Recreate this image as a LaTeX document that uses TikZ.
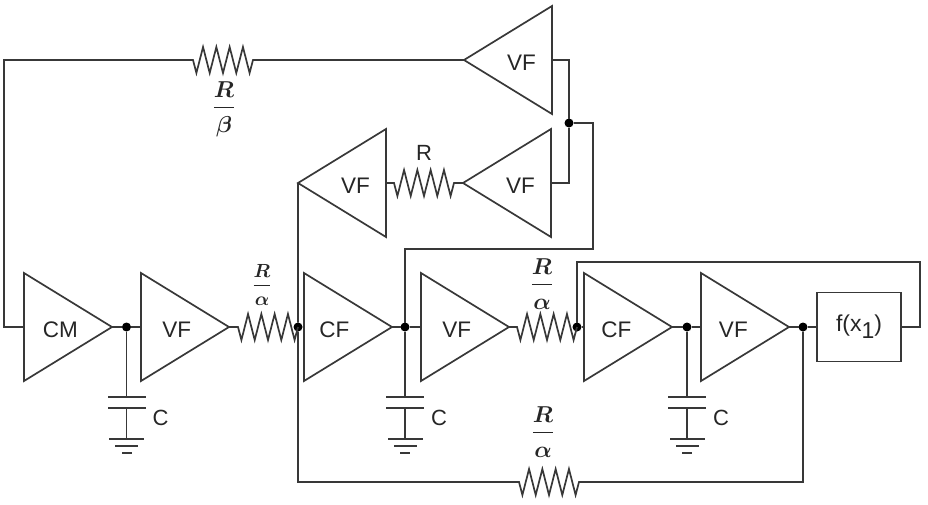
\documentclass[tikz,border=0pt]{standalone}
\usepackage{fix-cm}
\usepackage{amsmath, amssymb}
\usepackage{bm}
\usepackage{fontspec}
\setmainfont{Liberation Sans}
\usepackage{tikz}
\usetikzlibrary{shapes.geometric,positioning,calc}
\colorlet{wire}{black!78}
\tikzset{
  amp/.style={isosceles triangle,isosceles triangle stretches,draw=wire,line width=1.7pt,inner sep=0pt,outer sep=0pt,
    minimum width=108pt,minimum height=88pt,text=black!85,font=\fontsize{22.5}{24}\selectfont},
  ampl/.style={amp,shape border rotate=180},
  dot/.style={circle,fill=black,inner sep=0pt,outer sep=0pt,minimum size=9pt},
  resbox/.style={draw=none,inner sep=0pt,outer sep=0pt,minimum width=60pt,minimum height=26pt},
  plate/.style={fill=wire,draw=none,inner sep=0pt,outer sep=0pt,minimum height=2pt},
  textbox/.style={draw=none,inner sep=0pt,text=black!85,font=\fontsize{22}{24}\selectfont},
  ratio/.style={draw=none,inner sep=0pt,text=black!85,font=\fontsize{#1}{24}\selectfont},
  wireline/.style={draw=wire,line width=1.7pt},
  resistor/.style={to path={-- ($(\tikztostart)!.5!(\tikztotarget)+(-26.6,13)$) -- ++(6.65,-26) -- ++(6.65,26) -- ++(6.65,-26)
    -- ++(6.65,26) -- ++(6.65,-26) -- ++(6.65,26) -- ++(6.65,-26) -- ++(6.65,26) -- (\tikztotarget)}}
}
\newcommand{\ratiotext}[2]{$\dfrac{\bm{#1}}{\rule{0pt}{.95em}\bm{#2}}$}
\newcommand{\amplabel}[2][0pt]{\hspace{#1}\raisebox{-3pt}[\height][\depth]{#2}}
\begin{document}
\begin{tikzpicture}[x=1pt,y=-1pt]
    \useasboundingbox (0,0) rectangle (928,504);
    % bottom row
    \node[amp,anchor=lower side] (cm) at (24,327) {\amplabel[8pt]{CM}};
    \node[dot,right=10pt of cm.apex] (j1) {};
    \node[amp,right=10pt of j1,anchor=lower side] (vf1) {\amplabel[8pt]{VF}};
    \node[resbox,right=9pt of vf1.apex] (r1) {};
    \node[dot,anchor=center] (j2) at (r1.east) {};
    \node[amp,right=1.5pt of j2,anchor=lower side] (cf1) {\amplabel{CF}};
    \node[dot,right=8.5pt of cf1.apex] (j3) {};
    \node[amp,right=11.5pt of j3,anchor=lower side] (vf2) {\amplabel[8pt]{VF}};
    \node[resbox,right=8pt of vf2.apex] (r2) {};
    \node[dot,anchor=center] (j4) at (r2.east) {};
    \node[amp,right=2.5pt of j4,anchor=lower side] (cf2) {\amplabel[3pt]{CF}};
    \node[dot,right=10.5pt of cf2.apex] (j5) {};
    \node[amp,right=9.5pt of j5,anchor=lower side] (vf3) {\amplabel[3pt]{VF}};
    \node[dot,right=9.5pt of vf3.apex] (j6) {};
    \node[draw=wire,line width=1.7pt,minimum width=84pt,minimum height=69pt,inner sep=0pt,outer sep=0pt,right=9.5pt of j6,text=black!85,font=\fontsize{23}{24}\selectfont] (fx) {f(x\raisebox{-7pt}{1})};

    % upper amplifiers
    \node[ampl,anchor=apex] (vf4) at (464,60) {\amplabel{VF}};
    \node[resbox] (r3) at (223,60) {};
    \node[ampl,anchor=apex] (vf5) at (463,183) {\amplabel{VF}};
    \node[resbox,left=9pt of vf5.apex] (r4) {};
    \node[ampl,left=8pt of r4,anchor=lower side] (vf6) {\amplabel{VF}};
    \node[dot] (j7) at (569,123) {};
    \node[resbox] (r5) at (549,482) {};

    % capacitors
    \node[plate,minimum width=38pt,below=64.5pt of j1] (c1a) {};
    \node[plate,minimum width=38pt,below=9pt of c1a] (c1b) {};
    \node[plate,minimum width=35pt,below=29pt of c1b] (g1a) {};
    \node[plate,minimum width=23pt,below=5pt of g1a] (g1b) {};
    \node[plate,minimum width=10pt,below=5pt of g1b] (g1c) {};
    \node[textbox,anchor=west] (c1) at ($(c1a)!.5!(c1b)+(26,15)$) {C};
    \node[plate,minimum width=38pt,below=64.5pt of j3] (c2a) {};
    \node[plate,minimum width=38pt,below=9pt of c2a] (c2b) {};
    \node[plate,minimum width=35pt,below=29pt of c2b] (g2a) {};
    \node[plate,minimum width=23pt,below=5pt of g2a] (g2b) {};
    \node[plate,minimum width=10pt,below=5pt of g2b] (g2c) {};
    \node[textbox,anchor=west] (c2) at ($(c2a)!.5!(c2b)+(26,15)$) {C};
    \node[plate,minimum width=38pt,below=64.5pt of j5] (c3a) {};
    \node[plate,minimum width=38pt,below=9pt of c3a] (c3b) {};
    \node[plate,minimum width=35pt,below=29pt of c3b] (g3a) {};
    \node[plate,minimum width=23pt,below=5pt of g3a] (g3b) {};
    \node[plate,minimum width=10pt,below=5pt of g3b] (g3c) {};
    \node[textbox,anchor=west] (c3) at ($(c3a)!.5!(c3b)+(26,15)$) {C};

    % resistor labels
    \node[ratio=19] (l1) at (262,285) {\ratiotext{R}{\alpha}};
    \node[ratio=23] (l2) at (542,284) {\ratiotext{R}{\alpha}};
    \node[ratio=23] (l3) at (543,432) {\ratiotext{R}{\alpha}};
    \node[ratio=23] (l4) at (224,109) {\ratiotext{R}{\beta}};
    \node[textbox,above=9pt of r4] (l5) {R};

    % free corners of the wires
    \coordinate (lt) at (4,60);
    \coordinate (fb) at (593,249);
    \coordinate (tr) at (920,262);
    \coordinate (jb) at (298,482);

    \draw[wireline] (cm.apex) -- (j1) -- (vf1.lower side);
    \draw[wireline] (vf1.apex) -- (r1.west) to[resistor] (r1.east);
    \draw[wireline] (j2) -- (cf1.lower side);
    \draw[wireline] (cf1.apex) -- (j3) -- (vf2.lower side);
    \draw[wireline] (vf2.apex) -- (r2.west) to[resistor] (r2.east);
    \draw[wireline] (j4) -- (cf2.lower side);
    \draw[wireline] (cf2.apex) -- (j5) -- (vf3.lower side);
    \draw[wireline] (vf3.apex) -- (j6) -- (fx.west);

    \draw[wireline] (cm.lower side) -| (lt) -- (r3.west) to[resistor] (r3.east) -- (vf4.apex);
    \draw[wireline] (vf6.lower side) -- (r4.west) to[resistor] (r4.east) -- (vf5.apex);
    \draw[wireline] (vf4.lower side) -| (j7) |- (vf5.lower side);
    \draw[wireline] (j7) -| (fb) -| (j3);
    \draw[wireline] (vf6.apex) -- (j2) -- (jb) -- (r5.west) to[resistor] (r5.east) -| (j6);
    \draw[wireline] (fx.east) -| (tr) -| (j4);

    \draw[wireline] (j1) -- (c1a);
    \draw[wireline] (c1b) -- (g1a);
    \draw[wireline] (j3) -- (c2a);
    \draw[wireline] (c2b) -- (g2a);
    \draw[wireline] (j5) -- (c3a);
    \draw[wireline] (c3b) -- (g3a);
\end{tikzpicture}
\end{document}
